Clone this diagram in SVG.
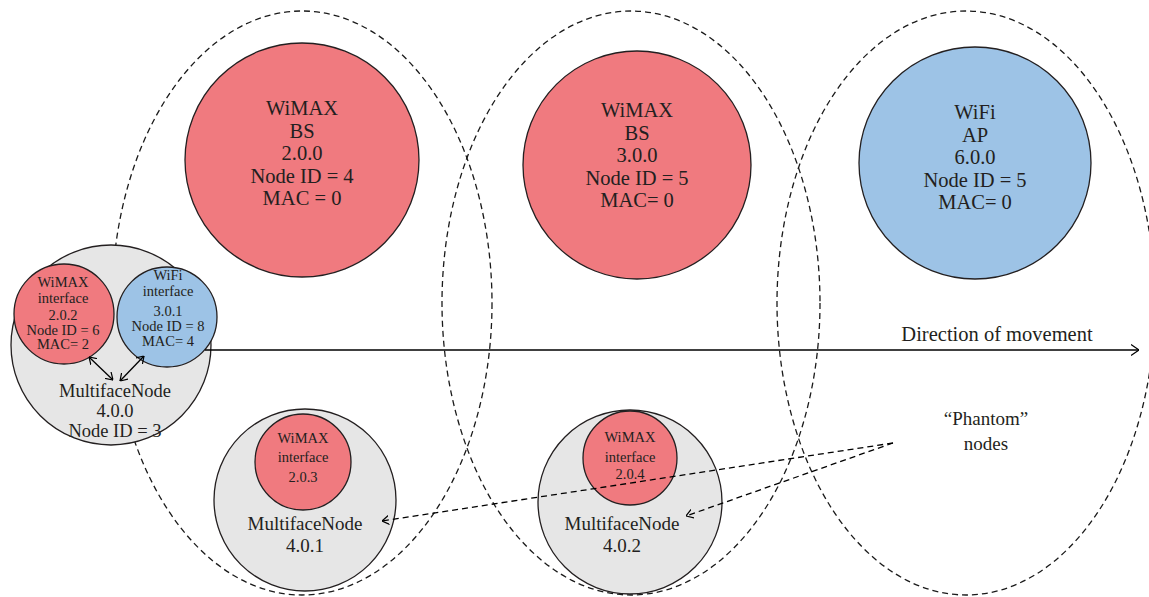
<svg xmlns="http://www.w3.org/2000/svg" width="1149" height="597" viewBox="0 0 1149 597">
<defs>
<style>
.zone{fill:none;stroke:#1a1a1a;stroke-width:1.3;stroke-dasharray:6,4}
.node{stroke:#231F20;stroke-width:1.3}
.red{fill:#F07A7F}
.blue{fill:#9DC3E6}
.gray{fill:#E6E6E6}
text{font-family:"Liberation Serif","Times New Roman",serif;fill:#231F20;text-anchor:middle}
.big{font-size:20.5px}
.mid{font-size:19px}
.mn{font-size:18.5px}
.sm{font-size:14.5px}
.conn{fill:none;stroke:#000;stroke-width:1.3}
.dash{stroke-dasharray:6,4}
</style>
<marker id="arr" viewBox="0 0 8 12" refX="8" refY="6" markerWidth="8" markerHeight="12" markerUnits="userSpaceOnUse" orient="auto-start-reverse">
<path d="M0,0.5 L8,6 L0,11.5" fill="none" stroke="#000" stroke-width="1.2"/>
</marker>
<marker id="arrs" viewBox="0 0 7 10" refX="7" refY="5" markerWidth="7" markerHeight="10" markerUnits="userSpaceOnUse" orient="auto-start-reverse">
<path d="M0,0.5 L7,5 L0,9.5" fill="none" stroke="#000" stroke-width="1.2"/>
</marker>
</defs>
<rect width="1149" height="597" fill="#fff"/>

<g id="zones">
<ellipse class="zone" cx="302" cy="303" rx="190" ry="292"/>
<ellipse class="zone" cx="631" cy="303" rx="189" ry="292"/>
<ellipse class="zone" cx="966" cy="303" rx="189" ry="292"/>
</g>

<g id="bs200">
<circle class="node red" cx="302" cy="160" r="117"/>
<text class="big" x="302" y="115">WiMAX</text>
<text class="big" x="302" y="137.5">BS</text>
<text class="big" x="302" y="160">2.0.0</text>
<text class="big" x="302" y="182.5">Node ID = 4</text>
<text class="big" x="302" y="205">MAC = 0</text>
</g>

<g id="bs300">
<circle class="node red" cx="637" cy="165" r="114"/>
<text class="big" x="637" y="117">WiMAX</text>
<text class="big" x="637" y="139.5">BS</text>
<text class="big" x="637" y="162">3.0.0</text>
<text class="big" x="637" y="184.5">Node ID = 5</text>
<text class="big" x="637" y="207">MAC= 0</text>
</g>

<g id="ap600">
<circle class="node blue" cx="975" cy="163" r="116"/>
<text class="big" x="975" y="119">WiFi</text>
<text class="big" x="975" y="141.5">AP</text>
<text class="big" x="975" y="164">6.0.0</text>
<text class="big" x="975" y="186.5">Node ID = 5</text>
<text class="big" x="975" y="209">MAC= 0</text>
</g>

<g id="mn400">
<circle class="node gray" cx="111" cy="345" r="100"/>
<text class="mn" x="115" y="397">MultifaceNode</text>
<text class="mn" x="115" y="417">4.0.0</text>
<text class="mn" x="115" y="437">Node ID = 3</text>
</g>

<g id="if202">
<circle class="node red" cx="64" cy="314" r="50"/>
<text class="sm" x="63" y="287">WiMAX</text>
<text class="sm" x="63" y="303">interface</text>
<text class="sm" x="63" y="320">2.0.2</text>
<text class="sm" x="63" y="335">Node ID = 6</text>
<text class="sm" x="63" y="349">MAC= 2</text>
</g>

<g id="if301">
<circle class="node blue" cx="167" cy="317" r="50"/>
<text class="sm" x="168" y="280">WiFi</text>
<text class="sm" x="168" y="296">interface</text>
<text class="sm" x="168" y="316">3.0.1</text>
<text class="sm" x="168" y="331">Node ID = 8</text>
<text class="sm" x="168" y="346">MAC= 4</text>
</g>

<g id="mn401">
<circle class="node gray" cx="305" cy="500" r="91"/>
<text class="mid" x="305" y="530">MultifaceNode</text>
<text class="mid" x="305" y="552">4.0.1</text>
</g>

<g id="if203">
<circle class="node red" cx="303" cy="462" r="48"/>
<text class="sm" x="303" y="443">WiMAX</text>
<text class="sm" x="303" y="462">interface</text>
<text class="sm" x="303" y="482">2.0.3</text>
</g>

<g id="mn402">
<circle class="node gray" cx="630" cy="502" r="92"/>
<text class="mid" x="622" y="530">MultifaceNode</text>
<text class="mid" x="622" y="552">4.0.2</text>
</g>

<g id="if204">
<circle class="node red" cx="630" cy="458" r="47"/>
<text class="sm" x="630" y="442">WiMAX</text>
<text class="sm" x="630" y="462">interface</text>
<text class="sm" x="630" y="479">2.0.4</text>
</g>

<g id="labels">
<text class="big" x="997" y="341">Direction of movement</text>
<text class="mid" x="986" y="425">“Phantom”</text>
<text class="mid" x="986" y="450">nodes</text>
</g>

<g id="connectors">
<line class="conn" x1="205" y1="350" x2="1139" y2="350" marker-end="url(#arr)"/>
<line class="conn" x1="89" y1="357" x2="113" y2="380" marker-start="url(#arrs)" marker-end="url(#arrs)"/>
<line class="conn" x1="144" y1="356" x2="120" y2="381" marker-start="url(#arrs)" marker-end="url(#arrs)"/>
<line class="conn dash" x1="893" y1="443" x2="382" y2="521" marker-end="url(#arrs)"/>
<line class="conn dash" x1="893" y1="443" x2="686" y2="516" marker-end="url(#arrs)"/>
</g>
</svg>
